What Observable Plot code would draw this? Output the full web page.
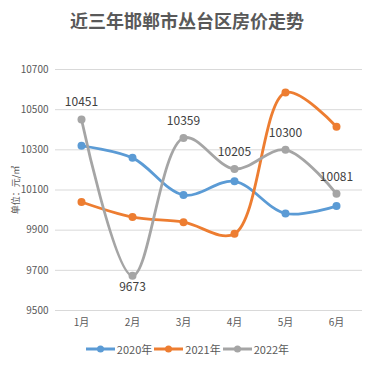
<!DOCTYPE html>
<html>
<head>
<meta charset="utf-8">
<script src="https://cdn.jsdelivr.net/npm/d3@7"></script>
<script src="https://cdn.jsdelivr.net/npm/@observablehq/plot@0.6"></script>
<style>
  html, body { margin: 0; padding: 0; background: #fff; }
  body { width: 374px; height: 368px; overflow: hidden; font-family: "Noto Sans CJK SC", "Noto Sans", sans-serif; }
  #title { height: 50px; line-height: 40px; text-align: center; font-size: 18px; font-weight: bold; color: #595959; }
  #legend { display: flex; justify-content: center; align-items: center; height: 38px; font-size: 11px; color: #595959; padding-left: 1px; }
  .item { display: flex; align-items: center; margin: 0 1px; }
  .item svg { margin-right: 2px; }
</style>
</head>
<body>
<div id="title">近三年邯郸市丛台区房价走势</div>
<div id="chart"></div>
<div id="legend"></div>
<script>
const months = ["1月", "2月", "3月", "4月", "5月", "6月"];
const seriesNames = ["2020年", "2021年", "2022年"];
const values2020 = [10320, 10260, 10075, 10143, 9983, 10020];
const values2021 = [10040, 9965, 9940, 9882, 10585, 10415];
const values2022 = [10451, 9673, 10359, 10205, 10300, 10081];
const colors = ["#5B9BD5", "#ED7D31", "#A5A5A5"];
const yTicks = [9500, 9700, 9900, 10100, 10300, 10500, 10700];
const yLabel = "单位：元/㎡";

const all = [values2020, values2021, values2022];
const data = [];
all.forEach((vals, si) => vals.forEach((v, i) => data.push({series: seriesNames[si], month: months[i], value: v, idx: i})));
const labels = data.filter(d => d.series === "2022年");

const font = "Noto Sans CJK SC, Noto Sans, sans-serif";
const chart = Plot.plot({
  width: 374,
  height: 280,
  marginTop: 19,
  marginBottom: 20,
  marginLeft: 55,
  marginRight: 12,
  style: {fontFamily: font, fontSize: "10px", color: "#595959", background: "#fff"},
  x: {type: "point", domain: months, padding: 0.5, label: null},
  y: {domain: [9500, 10700], ticks: yTicks, label: yLabel},
  color: {domain: seriesNames, range: colors},
  marks: [
    Plot.gridY(yTicks, {stroke: "#d9d9d9", strokeOpacity: 1, strokeWidth: 1}),
    Plot.axisX({tickSize: 0, tickPadding: 8, fontSize: 10, fill: "#595959"}),
    Plot.axisY({tickSize: 0, tickPadding: 7, ticks: yTicks, tickFormat: d => String(d), fontSize: 10, fill: "#595959",
      label: yLabel, labelAnchor: "center", labelArrow: "none", labelOffset: 43}),
    Plot.line(data, {x: "month", y: "value", z: "series", stroke: "series", strokeWidth: 2.8, curve: "catmull-rom"}),
    Plot.dot(data, {x: "month", y: "value", fill: "series", r: 4, stroke: "none"}),
    Plot.text(labels.filter(d => d.idx !== 1), {x: "month", y: "value", text: d => String(d.value), dy: -17, fontSize: 12, fill: "#404040"}),
    Plot.text(labels.filter(d => d.idx === 1), {x: "month", y: "value", text: d => String(d.value), dy: 11, fontSize: 12, fill: "#404040"})
  ]
});
document.getElementById("chart").appendChild(chart);
chart.querySelectorAll("g[aria-label='y-axis label'] text").forEach(t => { t.setAttribute("font-size", "9"); t.style.fontSize = "9px"; });

const legend = document.getElementById("legend");
seriesNames.forEach((name, i) => {
  const item = document.createElement("div");
  item.className = "item";
  const svg = d3.create("svg").attr("width", 29).attr("height", 10);
  svg.append("line").attr("x1", 0).attr("x2", 29).attr("y1", 5).attr("y2", 5).attr("stroke", colors[i]).attr("stroke-width", 3);
  svg.append("circle").attr("cx", 14.5).attr("cy", 5).attr("r", 3.5).attr("fill", colors[i]);
  item.appendChild(svg.node());
  const span = document.createElement("span");
  span.textContent = name;
  item.appendChild(span);
  legend.appendChild(item);
});
</script>
</body>
</html>
